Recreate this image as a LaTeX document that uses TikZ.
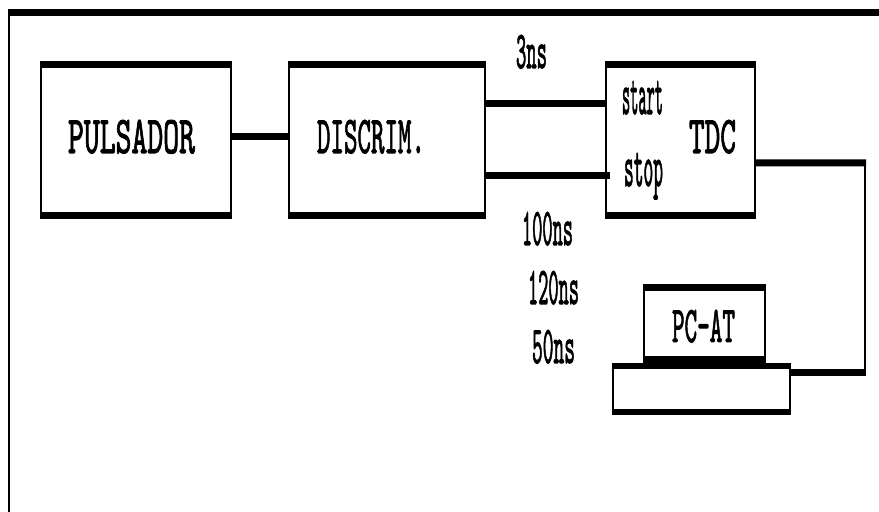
\documentclass[tikz,border=0pt]{standalone}
\usepackage{fontspec}
\newfontfamily\dotfont[FakeBold=2]{Latin Modern Mono}
\newcommand{\dotlabel}[3]{\resizebox{#1}{#2}{\dotfont #3}}
\tikzset{
  hbox/.style={draw, line width=0.02cm, outer sep=0pt, inner sep=0pt},
  hbar/.style={line width=0.07cm, shorten <=-0.01cm, shorten >=-0.01cm},
  wire/.style={line width=0.07cm},
  thinwire/.style={line width=0.025cm},
  lbl/.style={anchor=base west, inner sep=0pt, outer sep=0pt}
}

\begin{document}
\begin{tikzpicture}[line cap=butt, line join=miter]
\useasboundingbox (0,0) rectangle (8.79,5.12);

% ---------- Outer frame ----------
\coordinate (frametl) at (0.09,4.995);
\coordinate (frametr) at (8.79,4.995);
\coordinate (framebl) at (0.09,0);
\draw[line width=0.07cm] ([xshift=-0.01cm]frametl) -- (frametr);
\draw[line width=0.02cm] (frametl) -- (framebl);

% ---------- Boxes ----------
\node[hbox, minimum width=1.90cm, minimum height=1.51cm] (pulsador) at (1.36,3.72) {};
\node[hbox, minimum width=1.96cm, minimum height=1.51cm] (discrim) at (3.87,3.72) {};
\node[hbox, minimum width=1.485cm, minimum height=1.51cm] (tdc) at (6.8075,3.72) {};
\node[hbox, minimum width=1.21cm, minimum height=0.72cm] (pcat) at (7.045,1.885) {};
\node[hbox, minimum width=1.77cm, minimum height=0.46cm] (base) at (7.015,1.23) {};

% heavy top and bottom edges
\foreach \b in {pulsador,discrim,tdc,pcat} {
  \draw[hbar] (\b.north west) -- (\b.north east);
  \draw[hbar] (\b.south west) -- (\b.south east);
}
\draw[hbar, line width=0.06cm] (base.north west) -- (base.north east);
\draw[hbar, line width=0.06cm] (base.south west) -- (base.south east);

% ---------- Connectors ----------
\draw[wire] ([yshift=0.035cm]pulsador.east) -- ([yshift=0.035cm]discrim.west);
\draw[wire] ([yshift=0.36cm]discrim.east) -- ([yshift=0.36cm]tdc.west);
\draw[wire] ([yshift=-0.36cm]discrim.east) -- ([xshift=0.035cm,yshift=-0.36cm]tdc.west);

\coordinate (cornertop) at (8.65,3.49);
\coordinate (cornerbot) at (8.65,1.395);
\draw[wire] ([yshift=-0.23cm]tdc.east) -- ([xshift=0.0125cm]cornertop);
\draw[thinwire] (cornertop) -- (cornerbot);
\draw[wire] (base.east |- cornerbot) -- ([xshift=0.0125cm]cornerbot);

% ---------- Labels ----------
\node[lbl] (lblpulsador) at (0.68,3.59) {\dotlabel{1.27cm}{0.33cm}{PULSADOR}};
\node[lbl] (lbldiscrim) at (3.17,3.59) {\dotlabel{1.08cm}{0.33cm}{DISCRIM.}};
\node[lbl] (lbltdc) at (6.89,3.59) {\dotlabel{0.47cm}{0.33cm}{TDC}};
\node[lbl] (lblstart) at (6.22,3.98) {\dotlabel{0.41cm}{0.33cm}{start}};
\node[lbl] (lblstop) at (6.24,3.26) {\dotlabel{0.39cm}{0.33cm}{stop}};
\node[lbl] (lblpc) at (6.72,1.70) {\dotlabel{0.63cm}{0.32cm}{PC-AT}};
\node[lbl] (lblthree) at (5.16,4.44) {\dotlabel{0.31cm}{0.33cm}{3ns}};
\node[lbl] (lblhundred) at (5.22,2.67) {\dotlabel{0.51cm}{0.33cm}{100ns}};
\node[lbl] (lbltwenty) at (5.28,2.08) {\dotlabel{0.51cm}{0.33cm}{120ns}};
\node[lbl] (lblfifty) at (5.32,1.49) {\dotlabel{0.43cm}{0.33cm}{50ns}};

\end{tikzpicture}
\end{document}
